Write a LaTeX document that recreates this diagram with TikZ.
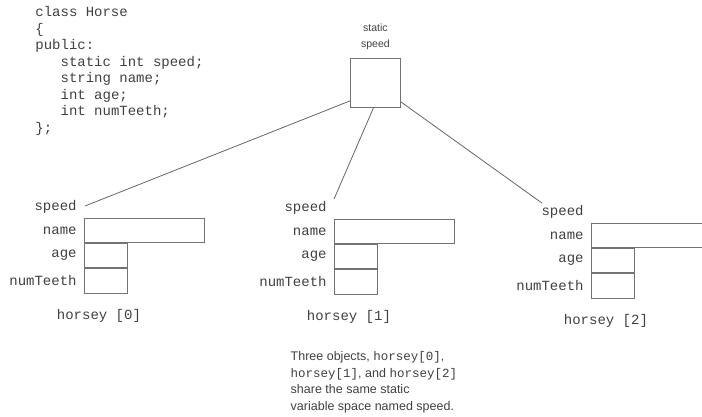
\documentclass[tikz,border=0pt]{standalone}
\usepackage{fontspec}
\setmainfont{Liberation Sans}
\setmonofont{Liberation Mono}
\usetikzlibrary{positioning}

\begin{document}
\begin{tikzpicture}[x=1pt, y=-1pt, thick,
    ink/.style={text=black!75},
    code/.style={ink, font=\fontsize{14}{16.5}\selectfont\ttfamily, align=left, inner sep=0pt},
    field/.style={ink, font=\fontsize{14}{16}\selectfont\ttfamily, inner sep=0pt},
    fieldbox/.style={draw=black!55, line width=0.9pt, inner sep=0pt, anchor=north west},
    link/.style={draw=black!60, line width=0.8pt}]
    \useasboundingbox (0,0) rectangle (702,417);
    \clip (0,0) rectangle (702,417);

    % Class declaration
    \node [code, anchor=north west] (decl) at (35,6) {class Horse\\
\{\\
public:\\
\ \ \ static int speed;\\
\ \ \ string name;\\
\ \ \ int age;\\
\ \ \ int numTeeth;\\
\};};

    % Static variable
    \node [fieldbox, minimum width=50pt, minimum height=49pt] (static) at (350,58) {};
    \node [ink, font=\fontsize{10.5}{16}\selectfont, align=center, anchor=south] (staticlbl) at ([yshift=5pt]static.north) {static\\speed};

    % Objects
    \foreach \i/\x/\y in {0/84/218, 1/334/219, 2/591/223} {
        \node [fieldbox, minimum width=120pt, minimum height=24pt] (name\i) at (\x,\y) {};
        \node [fieldbox, minimum width=43pt, minimum height=24pt] (age\i) at (name\i.south west) {};
        \node [fieldbox, minimum width=43pt, minimum height=25pt] (teeth\i) at (age\i.south west) {};
        \node [field, anchor=east] (speedlbl\i) at ([xshift=-7pt, yshift=11pt]name\i.north west) {speed};
        \node [field, anchor=east] (namelbl\i) at ([xshift=-7pt]name\i.west) {name};
        \node [field, anchor=east] (agelbl\i) at ([xshift=-7pt]age\i.west) {age};
        \node [field, anchor=east] (teethlbl\i) at ([xshift=-7pt]teeth\i.west) {numTeeth};
        \node [field, anchor=north] (obj\i) at ([xshift=-7pt, yshift=-15pt]teeth\i.south) {horsey [\i]};
    }

    % Shared links
    \draw [link] ([yshift=7pt]static.south west) -- ([xshift=8pt, yshift=1pt]speedlbl0.east);
    \draw [link] ([xshift=-2pt]static.south) -- ([xshift=7pt, yshift=2pt]speedlbl1.north east);
    \draw [link] ([yshift=6pt]static.south east) -- ([xshift=-42pt, yshift=2pt]speedlbl2.north east);

    % Caption
    \node [ink, font=\fontsize{12.5}{16.5}\selectfont, align=left, anchor=north west] (caption) at (287,348)
        {Three objects, \texttt{horsey[0]},\\
         \texttt{horsey[1]}, and \texttt{horsey[2]}\\
         share the same static\\
         variable space named speed.};
\end{tikzpicture}
\end{document}
